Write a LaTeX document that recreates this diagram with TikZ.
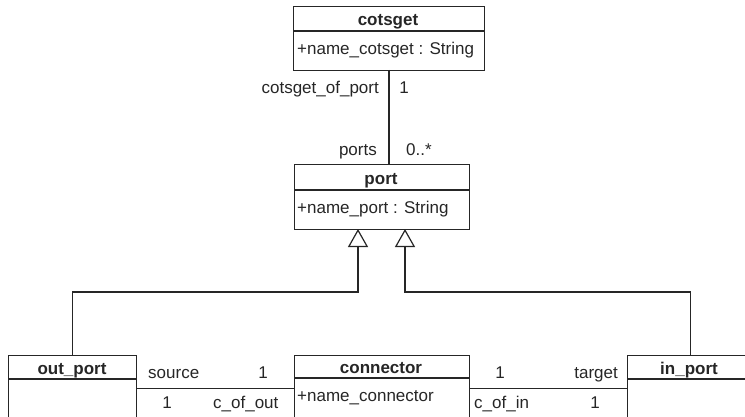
\documentclass[tikz,border=0pt]{standalone}
\usepackage{fontspec}
\setmainfont{Liberation Sans}
\usetikzlibrary{arrows.meta}
\begin{document}
\begin{tikzpicture}[x=1pt,y=-1pt,
  every node/.style={font=\fontsize{17}{20}\selectfont, text=black!85},
  classbox/.style={draw=black!85, line width=1.2pt, inner sep=0pt, anchor=north west},
  sepline/.style={draw=black!85, line width=1.2pt},
  title/.style={font=\fontsize{17}{20}\selectfont\bfseries, inner sep=0pt, anchor=mid},
  attr/.style={inner sep=0pt, anchor=mid west},
  lab/.style={inner sep=0pt, anchor=mid},
  assoc/.style={draw=black!85, line width=1.2pt},
  gen/.style={draw=black!85, line width=1.2pt,
    -{Triangle[open, width=20pt, length=18pt, line width=1.2pt, fill=white]}}
]
\useasboundingbox (0,0) rectangle (745,417);
\clip (0,0) rectangle (745,417);

% class boxes
\node[classbox, minimum width=191pt, minimum height=64pt] (cotsget) at (293,6) {};
\node[classbox, minimum width=175pt, minimum height=65pt] (port) at (294,164) {};
\node[classbox, minimum width=128pt, minimum height=65pt] (outport) at (8,355) {};
\node[classbox, minimum width=175pt, minimum height=65pt] (connector) at (294,355) {};
\node[classbox, minimum width=126pt, minimum height=65pt] (inport) at (627,355) {};

% compartment separators
\draw[sepline] ([yshift=-25pt]cotsget.north west) -- ([yshift=-25pt]cotsget.north east);
\draw[sepline] ([yshift=-26pt]port.north west) -- ([yshift=-26pt]port.north east);
\draw[sepline] ([yshift=-24pt]outport.north west) -- ([yshift=-24pt]outport.north east);
\draw[sepline] ([yshift=-23pt]connector.north west) -- ([yshift=-23pt]connector.north east);
\draw[sepline] ([yshift=-24pt]inport.north west) -- ([yshift=-24pt]inport.north east);

% class names
\node[title] (tcotsget) at (388,23) {cotsget};
\node[title] (tport) at (381,182) {port};
\node[title] (toutport) at (72,372) {out\_port};
\node[title] (tconnector) at (381,371) {connector};
\node[title] (tinport) at (689,372) {in\_port};

% attributes
\node[attr] (acotsget) at (297,52) {+name\_cotsget : String};
\node[attr] (aport) at (297,211) {+name\_port : String};
\node[attr] (aconnector) at (297,399) {+name\_connector};

% association cotsget -- port
\coordinate (cs) at (389,70);
\coordinate (pn) at (389,164);
\draw[assoc] (cs) -- (pn);
\node[inner sep=0pt, anchor=mid east] (l1) at (379,91) {cotsget\_of\_port};
\node[lab] (l2) at (404,91) {1};
\node[inner sep=0pt, anchor=mid east] (l3) at (377,153) {ports};
\node[inner sep=0pt, anchor=mid west] (l4) at (406,153) {0..*};

% associations with connector
\draw[assoc] (outport.east) -- (outport.east -| connector.west);
\draw[assoc] (connector.east) -- (connector.east -| inport.west);
\node[inner sep=0pt, anchor=mid west] (l5) at (148,376) {source};
\node[lab] (l6) at (263,376) {1};
\node[lab] (l7) at (167,406) {1};
\node[inner sep=0pt, anchor=mid west] (l8) at (213,406) {c\_of\_out};
\node[lab] (l9) at (500,376) {1};
\node[inner sep=0pt, anchor=mid east] (l10) at (618,376) {target};
\node[inner sep=0pt, anchor=mid west] (l11) at (474,406) {c\_of\_in};
\node[lab] (l12) at (595,406) {1};

% generalizations
\coordinate (tipL) at (358,229);
\coordinate (tipR) at (405,229);
\coordinate (jL) at (358,292);
\coordinate (jR) at (405,292);
\draw[gen] (outport.north) |- (jL) -- (tipL);
\draw[gen] (inport.north) |- (jR) -- (tipR);
\end{tikzpicture}
\end{document}
